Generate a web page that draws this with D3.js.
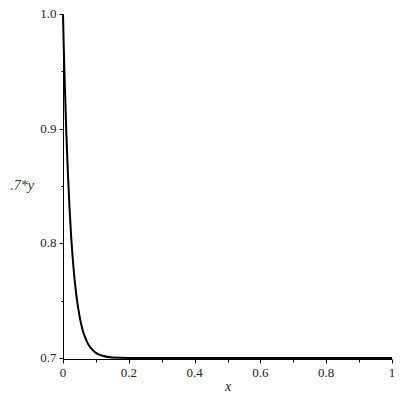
<!DOCTYPE html>
<html><head><meta charset="utf-8">
<script src="https://cdn.jsdelivr.net/npm/d3@7"></script>
<style>body{margin:0;background:#fff}svg{display:block}text{font-family:"Liberation Serif","Times New Roman",serif}</style>
</head><body>
<script>
const xs = [0, 0.002, 0.005, 0.01, 0.015, 0.02, 0.025, 0.03, 0.04, 0.05, 0.06, 0.07, 0.08, 0.09, 0.1, 0.12, 0.15, 0.2, 0.3, 0.4, 0.5, 0.6, 0.7, 0.8, 0.9, 1.0];
const ys = [1.0, 0.975, 0.943, 0.897, 0.860, 0.830, 0.805, 0.785, 0.756, 0.737, 0.724, 0.716, 0.7104, 0.707, 0.7045, 0.702, 0.7005, 0.7001, 0.7, 0.7, 0.7, 0.7, 0.7, 0.7, 0.7, 0.7];
const xTicks = [0, 0.2, 0.4, 0.6, 0.8, 1];
const xTickLabels = ["0", "0.2", "0.4", "0.6", "0.8", "1"];
const xMinor = [0.1, 0.3, 0.5, 0.7, 0.9];
const yTicks = [0.7, 0.8, 0.9, 1.0];
const yTickLabels = ["0.7", "0.8", "0.9", "1.0"];
const yMinor = [0.75, 0.85, 0.95];

const svg = d3.select("body").append("svg").attr("width", 400).attr("height", 400);
const x = d3.scaleLinear().domain([0, 1]).range([63, 392]);
const y = d3.scaleLinear().domain([0.7, 1.0]).range([358, 14]);

// curve
svg.append("path")
  .datum(xs.map((v, i) => [v, ys[i]]))
  .attr("fill", "none").attr("stroke", "#000").attr("stroke-width", 2)
  .attr("d", d3.line().x(d => x(d[0])).y(d => y(d[1])).curve(d3.curveMonotoneX));

// x axis
const xAxisY = 359.5;
const gx = svg.append("g").attr("transform", `translate(0,${xAxisY})`);
gx.append("line").attr("x1", x(0)).attr("x2", x(1)).attr("stroke", "#000");
gx.selectAll("line.maj").data(xTicks).join("line").attr("class", "maj")
  .attr("x1", d => Math.round(x(d)) + 0.5).attr("x2", d => Math.round(x(d)) + 0.5)
  .attr("y1", 0).attr("y2", 4).attr("stroke", "#000");
gx.selectAll("line.min").data(xMinor).join("line").attr("class", "min")
  .attr("x1", d => Math.round(x(d)) + 0.5).attr("x2", d => Math.round(x(d)) + 0.5)
  .attr("y1", 0).attr("y2", 3).attr("stroke", "#000");
gx.selectAll("text").data(xTicks).join("text")
  .attr("x", d => x(d)).attr("y", 17).attr("text-anchor", "middle")
  .attr("font-size", 13).attr("fill", "#222")
  .text((d, i) => xTickLabels[i]);

// y axis
const yAxisX = 63.5;
const gy = svg.append("g").attr("transform", `translate(${yAxisX},0)`);
gy.append("line").attr("y1", y(1.0)).attr("y2", xAxisY).attr("stroke", "#000");
gy.selectAll("line.maj").data(yTicks).join("line").attr("class", "maj")
  .attr("y1", d => Math.round(y(d)) + 0.5).attr("y2", d => Math.round(y(d)) + 0.5)
  .attr("x1", 0).attr("x2", -4).attr("stroke", "#000");
gy.selectAll("line.min").data(yMinor).join("line").attr("class", "min")
  .attr("y1", d => Math.round(y(d)) + 0.5).attr("y2", d => Math.round(y(d)) + 0.5)
  .attr("x1", 0).attr("x2", -2).attr("stroke", "#000");
gy.selectAll("text").data(yTicks).join("text")
  .attr("x", -7).attr("y", d => y(d) + 4).attr("text-anchor", "end")
  .attr("font-size", 13).attr("fill", "#222")
  .text((d, i) => yTickLabels[i]);

// axis labels
svg.append("text").attr("x", 228).attr("y", 391).attr("text-anchor", "middle")
  .attr("font-style", "italic").attr("font-size", 14).attr("fill", "#222").text("x");
svg.append("text").attr("x", 22).attr("y", 190).attr("text-anchor", "middle")
  .attr("font-style", "italic").attr("font-size", 14).attr("fill", "#333").text(".7*y");
</script>
</body></html>
